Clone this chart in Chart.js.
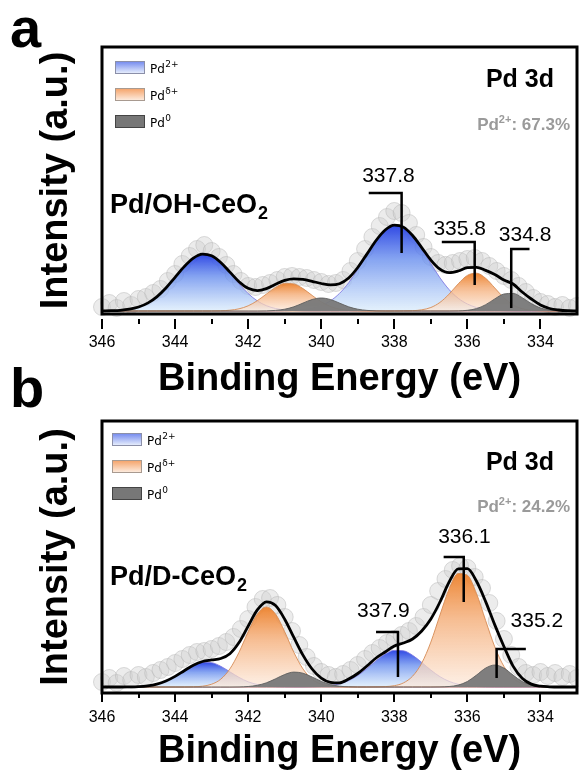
<!DOCTYPE html>
<html lang="en">
<head>
<meta charset="utf-8">
<title>Pd 3d XPS</title>
<script src="https://cdn.jsdelivr.net/npm/chart.js@4.4.1/dist/chart.umd.min.js"></script>
<style>
  html, body { margin: 0; background: #fff; }
  body { position: relative; width: 579px; height: 776px; overflow: hidden; }
  canvas { position: absolute; left: 0; }
  #chartA { top: 0; }
  #chartB { top: 390px; }
  .tag { position: absolute; left: 10px; margin: 0; font: bold 56px/56px 'Liberation Sans', Arial, sans-serif; color: #000; }
</style>
</head>
<body>
<canvas id="chartA" width="579" height="405"></canvas>
<canvas id="chartB" width="579" height="386"></canvas>
<div class="tag" style="top:0px">a</div>
<div class="tag" style="top:360px">b</div>
<script>
'use strict';

// energy grid of the fitted curves (eV)
const energy = [346, 345.75, 345.5, 345.25, 345, 344.75, 344.5, 344.25, 344, 343.75, 343.5, 343.25, 343,
  342.75, 342.5, 342.25, 342, 341.75, 341.5, 341.25, 341, 340.75, 340.5, 340.25, 340, 339.75, 339.5,
  339.25, 339, 338.75, 338.5, 338.25, 338, 337.75, 337.5, 337.25, 337, 336.75, 336.5, 336.25, 336,
  335.75, 335.5, 335.25, 335, 334.75, 334.5, 334.25, 334, 333.75, 333.5, 333.25, 333];

// energy of the measured points (eV)
const rawEnergy = [346.0, 345.8, 345.6, 345.4, 345.2, 345.0, 344.8, 344.6, 344.4, 344.2, 344.0, 343.8,
  343.6, 343.4, 343.2, 343.0, 342.8, 342.6, 342.4, 342.2, 342.0, 341.8, 341.6, 341.4, 341.2, 341.0,
  340.8, 340.6, 340.4, 340.2, 340.0, 339.8, 339.6, 339.4, 339.2, 339.0, 338.8, 338.6, 338.4, 338.2,
  338.0, 337.8, 337.6, 337.4, 337.2, 337.0, 336.8, 336.6, 336.4, 336.2, 336.0, 335.8, 335.6, 335.4,
  335.2, 335.0, 334.8, 334.6, 334.4, 334.2, 334.0, 333.8, 333.6, 333.4, 333.2, 333.0];

const xTickLabels = [346, 344, 342, 340, 338, 336, 334];
const seriesSup = ['2+', 'δ+', '0']; // Pd2+, Pdδ+, Pd0

// ---- (a) Pd/OH-CeO2 ----
const aPd2Peak343 = [0.1, 0.3, 0.7, 1.8, 4.0, 7.9, 14.2, 23.0, 33.7, 44.4, 52.9, 56.9, 55.2, 48.3, 38.1,
  27.1, 17.5, 10.1, 5.3, 2.5, 1.1, 0.4, 0.1, 0, 0, 0, 0, 0, 0, 0, 0, 0, 0, 0, 0, 0, 0, 0, 0, 0, 0, 0, 0,
  0, 0, 0, 0, 0, 0, 0, 0, 0, 0];
const aPd2Peak338 = [0, 0, 0, 0, 0, 0, 0, 0, 0, 0, 0, 0, 0, 0, 0, 0, 0, 0, 0, 0, 0.2, 0.5, 1.2, 2.6, 5.4,
  10.1, 17.6, 28.2, 41.5, 56.3, 70.4, 81.0, 85.9, 83.8, 75.2, 62.2, 47.4, 33.2, 21.4, 12.7, 7.0, 3.5,
  1.6, 0.7, 0.3, 0.1, 0, 0, 0, 0, 0, 0, 0];
const aPddPeak341 = [0, 0, 0, 0, 0, 0, 0, 0, 0, 0, 0, 0, 0, 0.2, 0.8, 2.2, 5.2, 10.3, 17.0, 23.6, 27.6,
  27.1, 22.4, 15.6, 9.1, 4.5, 1.8, 0.6, 0.2, 0, 0, 0, 0, 0, 0, 0, 0, 0, 0, 0, 0, 0, 0, 0, 0, 0, 0, 0, 0,
  0, 0, 0, 0];
const aPddPeak336 = [0, 0, 0, 0, 0, 0, 0, 0, 0, 0, 0, 0, 0, 0, 0, 0, 0, 0, 0, 0, 0, 0, 0, 0, 0, 0, 0, 0,
  0, 0, 0, 0, 0, 0.1, 0.3, 1.2, 3.5, 8.6, 16.9, 27.2, 35.6, 37.8, 32.7, 23.0, 13.2, 6.1, 2.3, 0.7, 0.2,
  0, 0, 0, 0];
const aPd0 = [0, 0, 0, 0, 0, 0, 0, 0, 0, 0, 0, 0, 0, 0, 0, 0, 0, 0, 0.1, 0.6, 1.8, 4.2, 7.9, 11.5, 13.0,
  11.5, 7.9, 4.2, 1.8, 0.6, 0.1, 0, 0, 0, 0, 0, 0, 0, 0, 0.1, 0.7, 2.4, 6.3, 12.1, 17.0, 17.6, 13.3, 7.4,
  3.0, 0.9, 0.2, 0, 0];
const aEnvelope = [0.1, 0.3, 0.7, 1.8, 4.0, 7.9, 14.2, 23.0, 33.7, 44.4, 52.9, 56.9, 55.2, 48.5, 38.9,
  29.3, 22.7, 20.4, 22.4, 26.7, 30.7, 32.2, 31.6, 29.7, 27.5, 26.1, 27.3, 33.0, 43.5, 56.9, 70.5, 81.0,
  85.9, 83.9, 75.5, 63.4, 50.9, 41.8, 38.3, 40.0, 43.3, 43.7, 40.6, 36.5, 31.0, 27.0, 19.0, 12.0, 6.0,
  2.5, 1.0, 0.3, 0.1];
const aRaw = [4, 8, 3, 10, 6, 12, 14, 18, 22, 30, 37, 47, 55, 62, 66, 60, 54, 46, 37, 30, 25, 24, 26, 28,
  31, 34, 35, 34, 33, 31, 29, 27, 28, 31, 40, 50, 62, 74, 85, 94, 100, 98, 88, 76, 64, 54, 48, 46, 48,
  50, 52, 53, 50, 45, 40, 35, 31, 25, 19, 13, 9, 7, 4, 6, 3, 5];
const aPeakLabels = ['337.8', '335.8', '334.8'];
const aPeakEnergy = [337.8, 335.8, 334.8];

// ---- (b) Pd/D-CeO2 ----
const bPd2Peak343 = [0, 0, 0, 0.1, 0.4, 1.2, 2.9, 6.0, 10.6, 16.3, 21.6, 24.7, 24.3, 20.7, 15.2, 9.6, 5.2,
  2.5, 1.0, 0.3, 0.1, 0, 0, 0, 0, 0, 0, 0, 0, 0, 0, 0, 0, 0, 0, 0, 0, 0, 0, 0, 0, 0, 0, 0, 0, 0, 0, 0, 0,
  0, 0, 0, 0];
const bPd2Peak338 = [0, 0, 0, 0, 0, 0, 0, 0, 0, 0, 0, 0, 0, 0, 0, 0, 0, 0, 0, 0, 0, 0, 0, 0.2, 0.5, 1.4,
  3.1, 6.4, 11.5, 18.4, 26.2, 32.9, 36.6, 36.2, 31.7, 24.6, 16.9, 10.3, 5.6, 2.7, 1.1, 0.4, 0.1, 0, 0, 0,
  0, 0, 0, 0, 0, 0, 0];
const bPddPeak341 = [0, 0, 0, 0, 0, 0, 0, 0, 0, 0, 0.2, 0.8, 2.8, 7.8, 18.1, 34.7, 55.2, 72.9, 80.0, 72.9,
  55.2, 34.7, 18.1, 7.8, 2.8, 0.8, 0.2, 0, 0, 0, 0, 0, 0, 0, 0, 0, 0, 0, 0, 0, 0, 0, 0, 0, 0, 0, 0, 0, 0,
  0, 0, 0, 0];
const bPddPeak336 = [0, 0, 0, 0, 0, 0, 0, 0, 0, 0, 0, 0, 0, 0, 0, 0, 0, 0, 0, 0, 0, 0, 0, 0, 0, 0, 0, 0,
  0, 0, 0.1, 0.4, 1.3, 4.1, 10.8, 23.8, 44.9, 72.0, 98.1, 113.5, 111.7, 93.4, 66.4, 40.1, 20.6, 9.0, 3.3,
  1.0, 0.3, 0.1, 0, 0, 0];
const bPd0 = [0, 0, 0, 0, 0, 0, 0, 0, 0, 0, 0, 0, 0, 0, 0, 0.1, 0.5, 1.7, 4.2, 8.2, 12.5, 14.9, 13.8, 10.0,
  5.6, 2.5, 0.8, 0.2, 0, 0, 0, 0, 0, 0, 0, 0, 0, 0.1, 0.5, 1.9, 5.5, 11.9, 18.9, 22.0, 18.9, 11.9, 5.5,
  1.9, 0.5, 0.1, 0, 0, 0];
const bEnvelope = [0, 0, 0, 0.1, 0.4, 1.2, 2.9, 6.0, 10.6, 16.3, 21.8, 25.5, 27.1, 28.5, 33.3, 44.4, 60.9,
  77.1, 85.2, 81.4, 67.8, 49.6, 31.9, 18.0, 8.9, 4.7, 4.1, 8.0, 13.5, 21.0, 29.0, 35.0, 41.0, 44.0, 48.0,
  56.0, 68.0, 85.0, 105.0, 118.1, 118.3, 105.7, 85.4, 62.1, 40.5, 20.9, 8.8, 2.9, 0.8, 0.2, 0, 0, 0];
const bRaw = [5, 9, 4, 11, 7, 12, 10, 14, 17, 20, 24, 28, 32, 35, 36, 38, 41, 45, 50, 58, 68, 80, 88, 89,
  82, 70, 56, 42, 30, 21, 15, 12, 10, 13, 17, 22, 28, 34, 39, 44, 48, 52, 56, 61, 70, 82, 96, 108, 117,
  121, 119, 110, 99, 84, 66, 48, 32, 20, 14, 12, 15, 11, 14, 10, 13, 9];
const bPeakLabels = ['337.9', '336.1', '335.2'];
const bPeakEnergy = [337.9, 336.1, 335.2];

// bracket geometry in data units (arm > 0 points to higher binding energy)
const aBrackets = [
  { top: 118, bottom: 58, arm: 0.9, textAt: 338.16, textY: 129 },
  { top: 69, bottom: 26, arm: 0.9, textAt: 336.21, textY: 76 },
  { top: 62, bottom: 3, arm: -0.5, textAt: 334.42, textY: 70 }
];
const bBrackets = [
  { top: 55, bottom: 10, arm: 0.6, textAt: 338.3, textY: 70 },
  { top: 130, bottom: 85, arm: 0.55, textAt: 336.08, textY: 144 },
  { top: 38, bottom: 9, arm: -0.8, textAt: 334.1, textY: 60 }
];

const FONT = '"Liberation Sans", Arial, sans-serif';
const BLUE = [[0, 'rgba(36,62,226,0.95)'], [0.4, 'rgba(104,142,238,0.8)'], [1, 'rgba(216,235,251,0.7)']];
const ORANGE = [[0, 'rgba(236,128,42,0.95)'], [0.4, 'rgba(244,172,118,0.8)'], [1, 'rgba(253,233,218,0.7)']];
const LEGEND_BOX = [
  { top: '#6f86ee', bottom: '#eef4fd', border: '#8b8fa8' },
  { top: '#f5a064', bottom: '#fdf0e6', border: '#a89a90' },
  { top: '#777777', bottom: '#777777', border: '#444444' }
];

// vertical gradient from the peak's own maximum down to the baseline
function peakFill(chart, values, stops) {
  const y = chart.scales.y;
  if (!chart.chartArea || !y) return stops[stops.length - 1][1];
  const g = chart.ctx.createLinearGradient(0, y.getPixelForValue(Math.max(...values)), 0, y.getPixelForValue(0));
  stops.forEach(([o, c]) => g.addColorStop(o, c));
  return g;
}

function curve(values, extra) {
  return Object.assign({
    data: values.map((v, i) => ({ x: energy[i], y: v })),
    pointRadius: 0,
    borderWidth: 1,
    cubicInterpolationMode: 'monotone',
    fill: 'origin'
  }, extra);
}

function decorations(s) {
  return {
    id: 'decorations',
    afterDatasetsDraw(chart) {
      const { ctx, chartArea: area, scales: { x, y } } = chart;
      ctx.save();

      // outward ticks, long on labelled energies
      ctx.strokeStyle = '#000';
      ctx.lineWidth = 2;
      x.ticks.forEach((t) => {
        if (t.value <= 333) return;
        const px = Math.round(x.getPixelForValue(t.value));
        const len = xTickLabels.includes(t.value) ? s.tickMajor : s.tickMinor;
        const y0 = area.bottom + s.tickGap;
        ctx.beginPath();
        ctx.moveTo(px, y0);
        ctx.lineTo(px, y0 + len);
        ctx.stroke();
      });

      ctx.lineWidth = 3;
      ctx.strokeRect(area.left, area.top, area.right - area.left, area.bottom - area.top);

      // peak markers
      ctx.lineWidth = 2.5;
      ctx.lineJoin = 'miter';
      ctx.fillStyle = '#000';
      ctx.font = `21px ${FONT}`;
      ctx.textAlign = 'center';
      ctx.textBaseline = 'alphabetic';
      s.peakLabels.forEach((label, i) => {
        const b = s.brackets[i];
        const px = x.getPixelForValue(s.peakEnergy[i]);
        const yt = y.getPixelForValue(b.top);
        ctx.beginPath();
        ctx.moveTo(x.getPixelForValue(s.peakEnergy[i] + b.arm), yt);
        ctx.lineTo(px, yt);
        ctx.lineTo(px, y.getPixelForValue(b.bottom));
        ctx.stroke();
        ctx.fillText(label, x.getPixelForValue(b.textAt), y.getPixelForValue(b.textY));
      });

      // sample name with subscript
      ctx.textAlign = 'left';
      const nx = area.left + s.nameAt[0];
      const ny = area.top + s.nameAt[1];
      ctx.font = `bold 27px ${FONT}`;
      ctx.fillText(s.name, nx, ny);
      const nw = ctx.measureText(s.name).width;
      ctx.font = `bold 18px ${FONT}`;
      ctx.fillText('2', nx + nw + 1, ny + 6);

      // core level
      ctx.textAlign = 'right';
      ctx.font = `bold 25px ${FONT}`;
      ctx.fillText('Pd 3d', area.right - 23, area.top + s.coreY);

      // Pd2+ share
      const parts = [['Pd', 17, 0], ['2+', 11, -7], [': ' + s.share, 17, 0]];
      ctx.textAlign = 'left';
      ctx.fillStyle = '#9a9a9a';
      const widths = parts.map(([t, size]) => { ctx.font = `bold ${size}px ${FONT}`; return ctx.measureText(t).width; });
      let sx = area.right - 7 - widths.reduce((a, b) => a + b, 0);
      parts.forEach(([t, size, dy], i) => {
        ctx.font = `bold ${size}px ${FONT}`;
        ctx.fillText(t, sx, area.top + s.shareY + dy);
        sx += widths[i];
      });

      // legend
      seriesSup.forEach((sup, i) => {
        const bx = area.left + s.legendAt[0];
        const by = area.top + s.legendAt[1] + i * 27;
        const st = LEGEND_BOX[i];
        const g = ctx.createLinearGradient(0, by, 0, by + 13);
        g.addColorStop(0, st.top);
        g.addColorStop(1, st.bottom);
        ctx.fillStyle = g;
        ctx.fillRect(bx, by, 30, 13);
        ctx.strokeStyle = st.border;
        ctx.lineWidth = 1;
        ctx.strokeRect(bx + 0.5, by + 0.5, 29, 12);
        ctx.fillStyle = '#000';
        ctx.font = '12px "DejaVu Sans"';
        ctx.fillText('Pd', bx + 35, by + 12);
        const w = ctx.measureText('Pd').width;
        ctx.font = '9px "DejaVu Sans"';
        ctx.fillText(sup, bx + 35 + w + 0.5, by + 6);
      });

      ctx.restore();
    }
  };
}

function buildChart(id, s) {
  const datasets = [
    curve(s.envelope, { label: 'Envelope', borderColor: '#000', borderWidth: 2.8, fill: false, order: 0 }),
    curve(s.pd0, { label: 'Pd0', borderColor: 'rgba(95,95,95,0.9)', backgroundColor: 'rgba(122,122,122,0.96)', order: 1 }),
    ...s.pdd.map((vals) => curve(vals, {
      label: 'Pdδ+', borderColor: 'rgba(214,140,85,0.9)',
      backgroundColor: (c) => peakFill(c.chart, vals, ORANGE), order: 2
    })),
    ...s.pd2.map((vals) => curve(vals, {
      label: 'Pd2+', borderColor: 'rgba(125,118,225,0.85)',
      backgroundColor: (c) => peakFill(c.chart, vals, BLUE), order: 3
    })),
    {
      label: 'Raw', data: s.raw.map((v, i) => ({ x: rawEnergy[i], y: v })), showLine: false,
      pointRadius: 8.5, pointBackgroundColor: 'rgba(205,205,205,0.38)',
      pointBorderColor: 'rgba(178,178,178,0.45)', pointBorderWidth: 1, clip: false, order: 5
    }
  ];

  return new Chart(document.getElementById(id), {
    type: 'line',
    data: { datasets },
    options: {
      responsive: false,
      animation: false,
      events: [],
      layout: { autoPadding: false, padding: { top: s.top, right: 2, left: 0, bottom: 0 } },
      plugins: { legend: { display: false }, tooltip: { enabled: false } },
      scales: {
        x: {
          type: 'linear', reverse: true, min: 333, max: 346,
          // fixed box: no room kept for edge labels
          afterFit: (scale) => { scale.height = s.xAxisHeight; scale.paddingLeft = 0; scale.paddingRight = 0; },
          grid: { display: false, drawTicks: false },
          border: { display: false },
          ticks: {
            stepSize: 1, autoSkip: false, maxRotation: 0, padding: s.tickPad, color: '#000',
            font: { family: FONT, size: 16 },
            callback: (v) => (xTickLabels.includes(v) ? String(v) : '')
          },
          title: {
            display: true, text: 'Binding Energy (eV)', color: '#000',
            font: { family: FONT, size: 38, weight: 'bold', lineHeight: 1.1 },
            padding: { top: 0, bottom: s.xTitlePad }
          }
        },
        y: {
          min: s.yMin, max: s.yMax,
          afterFit: (scale) => { scale.width = 102; },
          grid: { display: false, drawTicks: false },
          border: { display: false },
          ticks: { display: false },
          title: {
            display: true, text: 'Intensity (a.u.)', color: '#000',
            font: { family: FONT, size: 38, weight: 'bold', lineHeight: 1.1 },
            padding: { top: 36, bottom: 0 }
          }
        }
      }
    },
    plugins: [decorations(s)]
  });
}

buildChart('chartA', {
  envelope: aEnvelope, pd0: aPd0, pdd: [aPddPeak341, aPddPeak336], pd2: [aPd2Peak343, aPd2Peak338], raw: aRaw,
  peakLabels: aPeakLabels, peakEnergy: aPeakEnergy, brackets: aBrackets,
  name: 'Pd/OH-CeO', share: '67.3%',
  top: 47, xAxisHeight: 91, yMin: -3, yMax: 264, tickPad: 19, xTitlePad: 5,
  tickGap: 5, tickMajor: 10, tickMinor: 5,
  legendAt: [13, 14], nameAt: [8, 166], coreY: 40, shareY: 83
});

buildChart('chartB', {
  envelope: bEnvelope, pd0: bPd0, pdd: [bPddPeak341, bPddPeak336], pd2: [bPd2Peak343, bPd2Peak338], raw: bRaw,
  peakLabels: bPeakLabels, peakEnergy: bPeakEnergy, brackets: bBrackets,
  name: 'Pd/D-CeO', share: '24.2%',
  top: 31, xAxisHeight: 83, yMin: -6, yMax: 266, tickPad: 15, xTitlePad: 4,
  tickGap: 1, tickMajor: 8, tickMinor: 4,
  legendAt: [10, 12], nameAt: [8, 164], coreY: 49, shareY: 91
});
</script>
</body>
</html>
